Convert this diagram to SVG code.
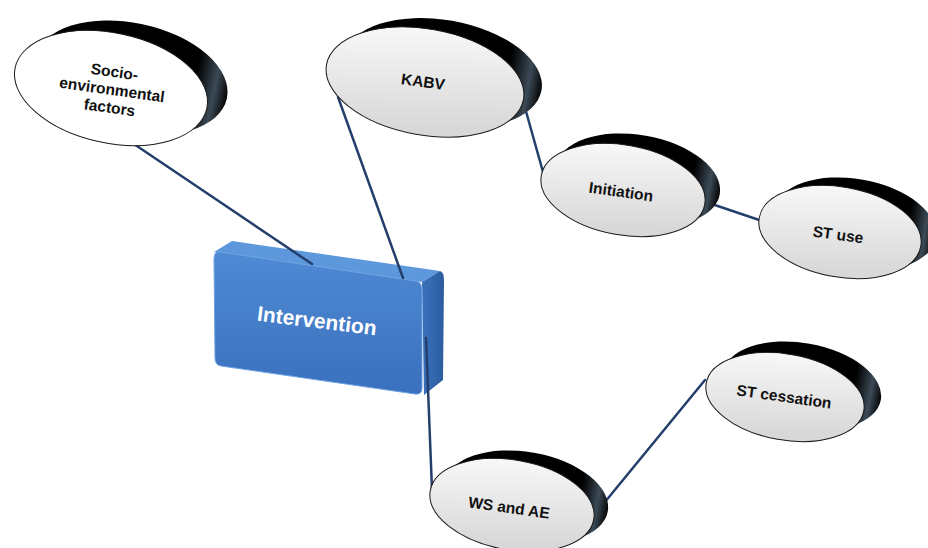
<svg xmlns="http://www.w3.org/2000/svg" width="928" height="548" viewBox="0 0 928 548">
<defs>
  <linearGradient id="gBack" x1="0" y1="0" x2="1" y2="0">
    <stop offset="0" stop-color="#000"/>
    <stop offset="0.82" stop-color="#000"/>
    <stop offset="0.93" stop-color="#3b4a56"/>
    <stop offset="1" stop-color="#050505"/>
  </linearGradient>
  <linearGradient id="gFront" x1="0" y1="0" x2="0.3" y2="1">
    <stop offset="0" stop-color="#fcfcfc"/>
    <stop offset="1" stop-color="#d8d8d8"/>
  </linearGradient>
  <linearGradient id="gBoxFront" x1="0" y1="0" x2="0" y2="1">
    <stop offset="0" stop-color="#4f8ad4"/>
    <stop offset="1" stop-color="#3a70bd"/>
  </linearGradient>
  <linearGradient id="gBoxSide" x1="0" y1="0" x2="1" y2="0">
    <stop offset="0" stop-color="#3b72bd"/>
    <stop offset="1" stop-color="#2c5c9e"/>
  </linearGradient>
  <style>
    .back{fill:url(#gBack);}
    .front{fill:url(#gFront);stroke:#1a1a1a;stroke-width:1;}
    .white{fill:#ffffff;}
    .lbl{font-family:"Liberation Sans",Arial,sans-serif;font-weight:bold;font-size:15.5px;fill:#111;text-anchor:middle;}
    .box{font-family:"Liberation Sans",Arial,sans-serif;font-weight:bold;font-size:21px;fill:#fff;text-anchor:middle;}
    .conn{stroke:#243f6b;stroke-width:2.5;fill:none;stroke-linecap:round;}
  </style>
</defs>
<rect width="928" height="548" fill="#fff"/>

<g id="intervention">
  <path d="M214,252 L232,241 L440,271 L422,282 Z" fill="#5e98dc"/>
  <path d="M422,282 L440,271 Q444,272 444,280 L443,380 L424,395 Z" fill="url(#gBoxSide)"/>
  <path d="M220,252 L416,281 Q422,282 422,290 L422,388 Q422,395 415,394 L221,366 Q215,365 215,358 L214,259 Q214,251 220,252 Z" fill="url(#gBoxFront)" stroke="#6fa4e4" stroke-width="1"/>
  <text class="box" x="317" y="328" transform="rotate(7 317 321)">Intervention</text>
</g>

<g id="connectors">
  <line class="conn" x1="128" y1="140" x2="312" y2="264"/>
  <line class="conn" x1="338" y1="97" x2="403" y2="278"/>
  <line class="conn" x1="520" y1="90" x2="543" y2="172"/>
  <line class="conn" x1="700" y1="200" x2="765" y2="222"/>
  <line class="conn" x1="426" y1="338" x2="432" y2="490"/>
  <line class="conn" x1="600" y1="508" x2="705" y2="380"/>
</g>

<g id="socio">
  <ellipse class="back" cx="131" cy="78" rx="98" ry="55" transform="rotate(12 131 78)"/>
  <ellipse class="front white" cx="111" cy="88" rx="98" ry="55" stroke="#1a1a1a" stroke-width="1" transform="rotate(12 111 88)"/>
  <g transform="rotate(8 112 90)">
    <text class="lbl" x="112" y="77">Socio-</text>
    <text class="lbl" x="112" y="95">environmental</text>
    <text class="lbl" x="112" y="113">factors</text>
  </g>
</g>

<g id="kabv">
  <ellipse class="back" cx="443" cy="73" rx="100" ry="53" transform="rotate(10 443 73)"/>
  <ellipse class="front" cx="425" cy="82" rx="100" ry="53" transform="rotate(10 425 82)"/>
  <text class="lbl" x="423" y="87" transform="rotate(8 423 82)">KABV</text>
</g>

<g id="initiation">
  <ellipse class="back" cx="638" cy="180" rx="83" ry="45" transform="rotate(10 638 180)"/>
  <ellipse class="front" cx="623" cy="190" rx="83" ry="45" transform="rotate(10 623 190)"/>
  <text class="lbl" x="621" y="197" transform="rotate(8 621 192)">Initiation</text>
</g>

<g id="st-use">
  <ellipse class="back" cx="855" cy="224" rx="82" ry="45" transform="rotate(10 855 224)"/>
  <ellipse class="front" cx="840" cy="232" rx="82" ry="45" transform="rotate(10 840 232)"/>
  <text class="lbl" x="838" y="240" transform="rotate(8 838 235)">ST use</text>
</g>

<g id="st-cessation">
  <ellipse class="back" cx="802" cy="386" rx="80" ry="43" transform="rotate(10 802 386)"/>
  <ellipse class="front" cx="785" cy="397" rx="80" ry="43" transform="rotate(10 785 397)"/>
  <text class="lbl" x="784" y="402" transform="rotate(8 784 397)">ST cessation</text>
</g>

<g id="ws-ae">
  <ellipse class="back" cx="526" cy="497" rx="83" ry="45" transform="rotate(10 526 497)"/>
  <ellipse class="front" cx="512" cy="505" rx="83" ry="45" transform="rotate(10 512 505)"/>
  <text class="lbl" x="509" y="513" transform="rotate(8 509 508)">WS and AE</text>
</g>
</svg>
